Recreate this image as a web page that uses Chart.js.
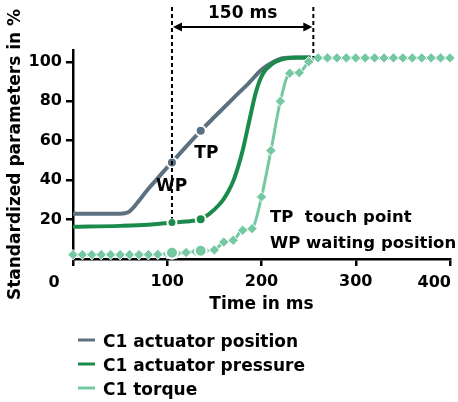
<!DOCTYPE html>
<html>
<head>
<meta charset="utf-8">
<script src="https://cdn.jsdelivr.net/npm/chart.js@4.4.1/dist/chart.umd.min.js"></script>
<style>
  html, body { margin: 0; padding: 0; background: #fff; }
  #wrap { width: 458px; height: 402px; }
</style>
</head>
<body>
<div id="wrap"><canvas id="chart" width="458" height="402"></canvas></div>
<script>
// values
const xTicks = [0, 100, 200, 300, 400];
const yTicks = [20, 40, 60, 80, 100];

const posTime  = [0, 50, 55, 60, 65, 70, 80, 90, 100, 105, 120, 135.5, 150, 170, 187, 200, 210, 222, 235, 252];
const posValue = [23, 23, 23.2, 24.2, 26.6, 29.6, 35.6, 41, 46.5, 49, 57, 65, 72, 81.5, 89.5, 96, 99.3, 101.8, 102.2, 102.2];

const presTime  = [0, 50, 80, 105, 120, 135.5, 145, 155, 160, 165, 170, 175, 180, 187, 194, 201, 212, 220, 230, 252];
const presValue = [16.3, 16.8, 17.4, 18.5, 19, 20.2, 23, 27.5, 30.5, 34.5, 39.5, 46.5, 55, 70, 84.5, 93.5, 99.2, 101, 102, 102.2];

const torqTime  = [0, 10, 20, 30, 40, 50, 60, 70, 80, 90, 100, 110, 120, 130, 140, 150, 160, 170, 180, 190, 200, 210, 220, 230, 240, 250, 260, 270, 280, 290, 300, 310, 320, 330, 340, 350, 360, 370, 380, 390, 400];
const torqValue = [2.2, 2.2, 2.2, 2.2, 2.2, 2.2, 2.2, 2.2, 2.2, 2.3, 2.6, 2.9, 3.3, 3.8, 4.2, 4.6, 8.6, 9.5, 14.6, 15.4, 31.5, 55, 80, 94.2, 94.5, 100, 102, 102, 102, 102, 102, 102, 102, 102, 102, 102, 102, 102, 102, 102, 102];

// WP / TP marks on each curve
const markTime = [105, 135.5];
const posMarks = [49, 65];
const presMarks = [18.5, 20.2];
const torqMarks = [3.2, 4.2];

const seriesNames = ['C1 actuator position', 'C1 actuator pressure', 'C1 torque'];
const colors = ['#5b7181', '#1b8b4c', '#74c9a2'];

const FONT = "'DejaVu Sans', sans-serif";

function pts(xs, ys) { return xs.map((x, i) => ({ x: x, y: ys[i] })); }

const annotations = {
  id: 'annotations',
  afterDatasetsDraw(chart) {
    const ctx = chart.ctx;
    const x = chart.scales.x, y = chart.scales.y;
    ctx.save();
    ctx.fillStyle = '#000';
    ctx.strokeStyle = '#000';

    // dashed markers
    const xa = x.getPixelForValue(105), xb = x.getPixelForValue(255);
    ctx.lineWidth = 2;
    ctx.setLineDash([4, 3]);
    ctx.beginPath();
    ctx.moveTo(xa, 7); ctx.lineTo(xa, y.getPixelForValue(presMarks[0]) - 4);
    ctx.moveTo(xb, 7); ctx.lineTo(xb, y.getPixelForValue(102.2));
    ctx.stroke();
    ctx.setLineDash([]);

    // 150 ms arrow
    const ay = 27;
    ctx.beginPath();
    ctx.moveTo(xa + 6, ay); ctx.lineTo(xb - 6, ay);
    ctx.stroke();
    ctx.beginPath();
    ctx.moveTo(xa + 1, ay); ctx.lineTo(xa + 10, ay - 4.5); ctx.lineTo(xa + 10, ay + 4.5); ctx.closePath();
    ctx.moveTo(xb - 1, ay); ctx.lineTo(xb - 10, ay - 4.5); ctx.lineTo(xb - 10, ay + 4.5); ctx.closePath();
    ctx.fill();

    ctx.font = 'bold 17px ' + FONT;
    ctx.textAlign = 'center';
    ctx.textBaseline = 'middle';
    ctx.fillText('150 ms', (xa + xb) / 2, 14);

    ctx.fillText('TP', x.getPixelForValue(141.5), y.getPixelForValue(53.7));
    ctx.fillText('WP', x.getPixelForValue(104.6), y.getPixelForValue(36.5));

    ctx.font = 'bold 16.5px ' + FONT;
    ctx.textAlign = 'left';
    ctx.fillText('TP  touch point', 270, 218);
    ctx.fillText('WP waiting position', 270, 244);

    // end tick labels placed like the original
    ctx.font = 'bold 16px ' + FONT;
    ctx.textAlign = 'center';
    ctx.fillText('0', x.getPixelForValue(0) - 19, 283);
    ctx.textAlign = 'right';
    ctx.fillText('400', x.right + 1, 283);

    // legend
    ctx.font = 'bold 17px ' + FONT;
    ctx.textAlign = 'left';
    ctx.textBaseline = 'alphabetic';
    const rows = [347, 371, 395];
    seriesNames.forEach((name, i) => {
      ctx.strokeStyle = colors[i];
      ctx.lineWidth = 3;
      ctx.beginPath();
      ctx.moveTo(78, rows[i] - 7); ctx.lineTo(95, rows[i] - 7);
      ctx.stroke();
      ctx.fillStyle = '#000';
      ctx.fillText(name, 103, rows[i]);
    });
    ctx.restore();
  }
};

new Chart(document.getElementById('chart'), {
  type: 'line',
  data: {
    datasets: [
      {
        label: 'marks',
        data: pts(markTime, posMarks).concat(pts(markTime, presMarks), pts(markTime, torqMarks)),
        showLine: false,
        pointRadius: [5, 5, 4.5, 5, 6, 6],
        pointBackgroundColor: [colors[0], colors[0], colors[1], colors[1], colors[2], colors[2]],
        pointBorderColor: '#fff',
        pointBorderWidth: 2,
        order: 0,
        clip: false
      },
      {
        label: seriesNames[2],
        data: pts(torqTime, torqValue),
        borderColor: colors[2],
        borderWidth: 3,
        cubicInterpolationMode: 'monotone',
        pointStyle: 'rectRot',
        pointRadius: 5.2,
        pointBackgroundColor: colors[2],
        pointBorderColor: '#fff',
        pointBorderWidth: 1,
        order: 1,
        clip: false
      },
      {
        label: seriesNames[1],
        data: pts(presTime, presValue),
        borderColor: colors[1],
        borderWidth: 4,
        cubicInterpolationMode: 'monotone',
        pointRadius: 0,
        order: 2
      },
      {
        label: seriesNames[0],
        data: pts(posTime, posValue),
        borderColor: colors[0],
        borderWidth: 4,
        cubicInterpolationMode: 'monotone',
        pointRadius: 0,
        order: 3
      }
    ]
  },
  options: {
    responsive: false,
    animation: false,
    layout: { padding: { top: 50, right: 6, bottom: 83, left: 0 } },
    plugins: { legend: { display: false }, tooltip: { enabled: false } },
    scales: {
      x: {
        type: 'linear',
        min: 0,
        max: 400,
        afterBuildTicks: s => { s.ticks = xTicks.map(v => ({ value: v })); },
        afterFit: s => { s.height = 60; s.paddingLeft = 0; s.paddingRight = 0; },
        ticks: {
          color: '#000',
          font: { family: FONT, size: 16, weight: 'bold' },
          padding: 6,
          maxRotation: 0,
          callback: v => (v === 0 || v === 400 ? '' : String(v))
        },
        grid: { drawOnChartArea: false, drawTicks: true, tickLength: 7, color: '#000', lineWidth: 2.5 },
        border: { display: true, color: '#000', width: 2.5 },
        title: {
          display: true,
          text: 'Time in ms',
          color: '#000',
          font: { family: FONT, size: 17, weight: 'bold' },
          padding: { top: 0, bottom: 4 }
        }
      },
      y: {
        min: 0,
        max: 106,
        afterBuildTicks: s => { s.ticks = yTicks.map(v => ({ value: v })); },
        afterFit: s => { s.width = 73; s.paddingTop = 0; s.paddingBottom = 0; },
        ticks: {
          color: '#000',
          font: { family: FONT, size: 16, weight: 'bold' },
          padding: 4
        },
        grid: { drawOnChartArea: false, drawTicks: true, tickLength: 7, color: '#000', lineWidth: 2.5 },
        border: { display: true, color: '#000', width: 2.5 },
        title: {
          display: true,
          text: 'Standardized parameters in %',
          color: '#000',
          font: { family: FONT, size: 17, weight: 'bold' },
          padding: { top: 5, bottom: 0 }
        }
      }
    }
  },
  plugins: [annotations]
});
</script>
</body>
</html>
